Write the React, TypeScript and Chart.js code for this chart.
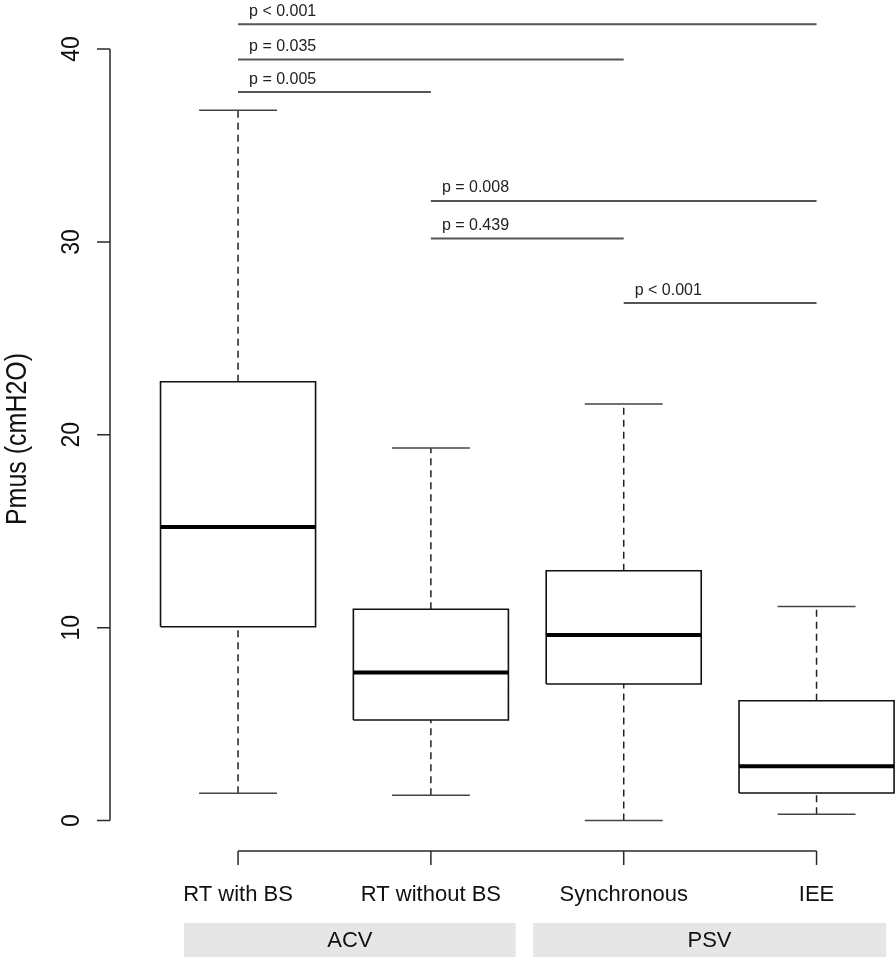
import React, { useEffect, useRef } from "react";
import { Chart, registerables } from "chart.js";

Chart.register(...registerables);

// ---- data ----
const categories = ["RT with BS", "RT without BS", "Synchronous", "IEE"];
const whiskerLow = [1.41, 1.31, 0.0, 0.32];
const q1 = [10.05, 5.21, 7.08, 1.43];
const medians = [15.22, 7.68, 9.62, 2.81];
const q3 = [22.75, 10.95, 12.95, 6.21];
const whiskerHigh = [36.82, 19.31, 21.59, 11.1];
const yTicks = [0, 10, 20, 30, 40];
const yTitle = "Pmus (cmH2O)";

const bracketFrom = [0, 0, 0, 1, 1, 2];
const bracketTo = [3, 2, 1, 3, 2, 3];
const bracketHeight = [41.28, 39.46, 37.77, 32.12, 30.18, 26.83];
const bracketLabels = ["p < 0.001", "p = 0.035", "p = 0.005", "p = 0.008", "p = 0.439", "p < 0.001"];

const groups = ["ACV", "PSV"];
const groupFrom = [-0.28, 1.53];
const groupTo = [1.44, 3.36];

// ---- layout constants ----
const BOX_HALF = 0.402;
const CAP_HALF = 0.202;
const X_MIN = -0.664;
const X_MAX = 3.412;
const Y_MIN = -1.58;
const Y_MAX = 42.54;
const FONT = "'Liberation Sans', Arial, Helvetica, sans-serif";

function buildBoxes() {
  const pts: any[] = [];
  categories.forEach((_, i) => {
    pts.push({ x: i - BOX_HALF, y: q1[i] });
    pts.push({ x: i + BOX_HALF, y: q1[i] });
    pts.push({ x: i + BOX_HALF, y: q3[i] });
    pts.push({ x: i - BOX_HALF, y: q3[i] });
    pts.push({ x: i - BOX_HALF, y: q1[i] });
    pts.push({ x: i, y: null });
  });
  return pts;
}
function buildMedians() {
  const pts: any[] = [];
  categories.forEach((_, i) => {
    pts.push({ x: i - BOX_HALF, y: medians[i] });
    pts.push({ x: i + BOX_HALF, y: medians[i] });
    pts.push({ x: i, y: null });
  });
  return pts;
}
function buildWhiskers() {
  const pts: any[] = [];
  categories.forEach((_, i) => {
    pts.push({ x: i, y: q3[i] });
    pts.push({ x: i, y: whiskerHigh[i] });
    pts.push({ x: i, y: null });
    pts.push({ x: i, y: whiskerLow[i] });
    pts.push({ x: i, y: q1[i] });
    pts.push({ x: i, y: null });
  });
  return pts;
}
function buildCaps() {
  const pts: any[] = [];
  categories.forEach((_, i) => {
    pts.push({ x: i - CAP_HALF, y: whiskerHigh[i] });
    pts.push({ x: i + CAP_HALF, y: whiskerHigh[i] });
    pts.push({ x: i, y: null });
    pts.push({ x: i - CAP_HALF, y: whiskerLow[i] });
    pts.push({ x: i + CAP_HALF, y: whiskerLow[i] });
    pts.push({ x: i, y: null });
  });
  return pts;
}
function buildBrackets() {
  const pts: any[] = [];
  bracketFrom.forEach((f, k) => {
    pts.push({ x: f, y: bracketHeight[k] });
    pts.push({ x: bracketTo[k], y: bracketHeight[k] });
    pts.push({ x: f, y: null });
  });
  return pts;
}

const rStylePlugin = {
  id: "rStyle",
  afterDraw(chart: any) {
    const { ctx, chartArea } = chart;
    const xs = chart.scales.x;
    const ys = chart.scales.y;
    ctx.save();
    ctx.strokeStyle = "#2a2a2a";
    ctx.fillStyle = "#111";
    ctx.lineWidth = 1.5;

    // y axis
    const ax = chartArea.left;
    ctx.beginPath();
    ctx.moveTo(ax, ys.getPixelForValue(yTicks[0]));
    ctx.lineTo(ax, ys.getPixelForValue(yTicks[yTicks.length - 1]));
    yTicks.forEach((t) => {
      const py = ys.getPixelForValue(t);
      ctx.moveTo(ax - 13, py);
      ctx.lineTo(ax, py);
    });
    ctx.stroke();
    ctx.font = `23px ${FONT}`;
    ctx.textAlign = "center";
    ctx.textBaseline = "alphabetic";
    yTicks.forEach((t) => {
      const py = ys.getPixelForValue(t);
      ctx.save();
      ctx.translate(ax - 31.5, py);
      ctx.rotate(-Math.PI / 2);
      ctx.scale(1, 1.1);
      ctx.fillText(String(t), 0, 0);
      ctx.restore();
    });

    // y title
    ctx.save();
    ctx.font = `25px ${FONT}`;
    ctx.translate(26, 439);
    ctx.rotate(-Math.PI / 2);
    ctx.scale(1, 1.2);
    ctx.fillText(yTitle, 0, 0);
    ctx.restore();

    // x axis
    const by = chartArea.bottom;
    ctx.beginPath();
    ctx.moveTo(xs.getPixelForValue(0), by);
    ctx.lineTo(xs.getPixelForValue(categories.length - 1), by);
    categories.forEach((_, i) => {
      const px = xs.getPixelForValue(i);
      ctx.moveTo(px, by);
      ctx.lineTo(px, by + 14);
    });
    ctx.stroke();
    ctx.font = `22px ${FONT}`;
    categories.forEach((c, i) => {
      ctx.fillText(c, xs.getPixelForValue(i), by + 50);
    });

    // group boxes
    groups.forEach((g, k) => {
      const x0 = xs.getPixelForValue(groupFrom[k]);
      const x1 = xs.getPixelForValue(groupTo[k]);
      ctx.fillStyle = "#e6e6e6";
      ctx.fillRect(x0, by + 72, x1 - x0, 34);
      ctx.fillStyle = "#111";
      ctx.fillText(g, (x0 + x1) / 2, by + 96);
    });

    // p-value labels
    ctx.font = `16px ${FONT}`;
    ctx.textAlign = "left";
    ctx.fillStyle = "#222";
    bracketLabels.forEach((lab, k) => {
      const px = xs.getPixelForValue(bracketFrom[k]) + 11;
      const py = ys.getPixelForValue(bracketHeight[k]) - 8.5;
      ctx.fillText(lab, px, py);
    });
    ctx.restore();
  },
};

export default function App() {
  const ref = useRef<HTMLCanvasElement | null>(null);
  useEffect(() => {
    if (!ref.current) return;
    const common = { pointRadius: 0, fill: false, tension: 0, spanGaps: false, borderCapStyle: "butt" };
    const chart = new Chart(ref.current, {
      type: "line",
      data: {
        datasets: [
          { ...common, data: buildBrackets(), borderColor: "#555", borderWidth: 2, order: 5 },
          { ...common, data: buildWhiskers(), borderColor: "#222", borderWidth: 1.5, borderDash: [7, 5], order: 4 },
          { ...common, data: buildCaps(), borderColor: "#444", borderWidth: 1.5, order: 3 },
          { ...common, data: buildBoxes(), borderColor: "#111", borderWidth: 1.6, borderJoinStyle: "miter", order: 2 },
          { ...common, data: buildMedians(), borderColor: "#000", borderWidth: 4, order: 1 },
        ] as any,
      },
      options: {
        animation: false,
        responsive: false,
        events: [],
        layout: { padding: { left: 110, right: 0, top: 0, bottom: 107 } },
        plugins: { legend: { display: false }, tooltip: { enabled: false } },
        scales: {
          x: { type: "linear", min: X_MIN, max: X_MAX, display: false },
          y: { type: "linear", min: Y_MIN, max: Y_MAX, display: false },
        },
      } as any,
      plugins: [rStylePlugin],
    });
    return () => chart.destroy();
  }, []);
  return (
    <div style={{ position: "fixed", left: 0, top: 0, width: 896, height: 958, background: "#fff" }}>
      <canvas ref={ref} width={896} height={958} style={{ width: 896, height: 958, display: "block" }} />
    </div>
  );
}
